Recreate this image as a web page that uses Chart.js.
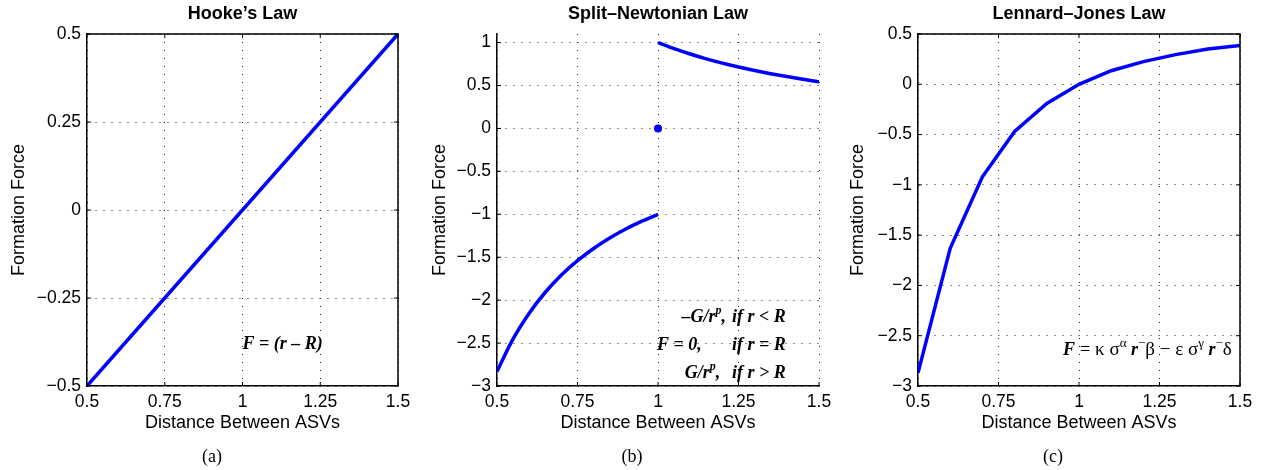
<!DOCTYPE html>
<html>
<head>
<meta charset="utf-8">
<title>Formation force laws</title>
<script src="https://cdn.jsdelivr.net/npm/chart.js@4.4.1/dist/chart.umd.min.js"></script>
<style>
  body { margin: 0; background: #fff; }
  #wrap { position: relative; width: 1263px; height: 470px; overflow: hidden; }
  canvas { position: absolute; top: 0; }
</style>
</head>
<body>
<div id="wrap">
  <canvas id="hooke" width="420" height="470" style="left:0"></canvas>
  <canvas id="split" width="420" height="470" style="left:420px"></canvas>
  <canvas id="lj" width="423" height="470" style="left:840px"></canvas>
</div>
<script>
// shared x ticks
const xTicks = [0.5, 0.75, 1, 1.25, 1.5];

// (a) Hooke's law
const hookeX = [0.5, 1.5];
const hookeY = [-0.5, 0.5];
const hookeTicks = [-0.5, -0.25, 0, 0.25, 0.5];

// (b) split-Newtonian law, two branches and the point at r = R
const splitLeftX = [0.5, 0.55, 0.6, 0.65, 0.7, 0.75, 0.8, 0.85, 0.9, 0.95, 1.0];
const splitLeftY = [-2.83, -2.451, -2.152, -1.908, -1.707, -1.54, -1.398, -1.276, -1.171, -1.08, -1.0];
const splitRightX = [1.0, 1.05, 1.1, 1.15, 1.2, 1.25, 1.3, 1.35, 1.4, 1.45, 1.5];
const splitRightY = [1.0, 0.929, 0.867, 0.811, 0.761, 0.716, 0.675, 0.638, 0.604, 0.573, 0.544];
const splitDotX = [1];
const splitDotY = [0];
const splitTicks = [-3, -2.5, -2, -1.5, -1, -0.5, 0, 0.5, 1];

// (c) Lennard-Jones law
const ljX = [0.5, 0.6, 0.7, 0.8, 0.9, 1.0, 1.1, 1.2, 1.3, 1.4, 1.5];
const ljY = [-2.87, -1.63, -0.92, -0.47, -0.19, 0, 0.135, 0.225, 0.295, 0.35, 0.385];
const ljTicks = [-3, -2.5, -2, -1.5, -1, -0.5, 0, 0.5];

const BLUE = '#0000ff';
const SANS = '"Liberation Sans", Arial, sans-serif';
const SERIF = '"Liberation Serif", "Times New Roman", serif';
const BI = 'bold italic 18px ' + SERIF;
const RG = '19px ' + SERIF;
const SUP = '13px ' + SERIF;
const SUPBI = 'bold italic 12px ' + SERIF;

const pts = (xs, ys) => xs.map((x, i) => ({ x, y: ys[i] }));
const fmt = v => (v < 0 ? '\u2212' : '') + Math.abs(v);

function drawRuns(ctx, x0, y0, runs, align) {
    ctx.textAlign = 'left';
    let w = 0;
    runs.forEach(r => { ctx.font = r.f; w += ctx.measureText(r.t).width; });
    let x = align === 'right' ? x0 - w : x0;
    runs.forEach(r => {
        ctx.font = r.f;
        ctx.fillText(r.t, x, y0 + (r.dy || 0));
        x += ctx.measureText(r.t).width;
    });
}

// inward ticks, frame, formula text and caption
const decor = {
    id: 'decor',
    afterDatasetsDraw(chart, args, o) {
        const { ctx, chartArea: a, scales: { x, y } } = chart;
        ctx.save();
        ctx.strokeStyle = '#000';
        ctx.lineWidth = 1;
        ctx.beginPath();
        x.ticks.forEach(t => {
            const px = x.getPixelForValue(t.value);
            ctx.moveTo(px, a.bottom); ctx.lineTo(px, a.bottom - 4);
            if (o.box) { ctx.moveTo(px, a.top); ctx.lineTo(px, a.top + 4); }
        });
        y.ticks.forEach(t => {
            const py = y.getPixelForValue(t.value);
            ctx.moveTo(a.left, py); ctx.lineTo(a.left + 4, py);
            if (o.box) { ctx.moveTo(a.right, py); ctx.lineTo(a.right - 4, py); }
        });
        ctx.stroke();
        if (o.box) {
            ctx.lineWidth = 1.5;
            ctx.beginPath();
            ctx.moveTo(a.left, a.top); ctx.lineTo(a.right, a.top); ctx.lineTo(a.right, a.bottom);
            ctx.stroke();
        }
        ctx.fillStyle = '#000';
        ctx.textBaseline = 'alphabetic';
        o.notes.forEach(n => drawRuns(ctx, x.getPixelForValue(n.x), y.getPixelForValue(n.y), n.runs, n.align));
        ctx.font = '18px ' + SERIF;
        ctx.textAlign = 'center';
        ctx.textBaseline = 'middle';
        ctx.fillText(o.caption, o.captionX, 457);
        ctx.restore();
    }
};

function makeChart(id, cfg) {
    return new Chart(document.getElementById(id), {
        type: 'line',
        data: { datasets: cfg.datasets },
        options: {
            responsive: false,
            animation: false,
            events: [],
            layout: { padding: { top: 0, left: 0, right: cfg.right, bottom: 36 } },
            plugins: {
                legend: { display: false },
                tooltip: { enabled: false },
                title: {
                    display: true, text: cfg.title, fullSize: false, color: '#000',
                    font: { family: SANS, size: 18, weight: 'bold' },
                    padding: { top: 3, bottom: 9.4 }
                },
                decor: cfg.decor
            },
            scales: {
                x: {
                    type: 'linear', min: 0.5, max: 1.5,
                    afterBuildTicks: s => { s.ticks = xTicks.map(v => ({ value: v })); },
                    afterFit: s => { s.height = 48; },
                    ticks: { color: '#000', font: { family: SANS, size: 17.5 }, padding: 6, maxRotation: 0, callback: fmt },
                    grid: { color: '#222', lineWidth: 1, drawTicks: false },
                    border: { display: true, color: '#000', width: 1.5, dash: [1, 7] },
                    title: { display: true, text: 'Distance Between ASVs', color: '#000', font: { family: SANS, size: 18 }, padding: 0 }
                },
                y: {
                    type: 'linear', min: cfg.yMin, max: cfg.yMax,
                    afterBuildTicks: s => { s.ticks = cfg.yTicks.map(v => ({ value: v })); },
                    afterFit: s => { s.width = cfg.yWidth; },
                    ticks: { color: '#000', font: { family: SANS, size: 17.5 }, padding: 6, callback: fmt },
                    grid: { color: '#222', lineWidth: 1, drawTicks: false },
                    border: { display: true, color: '#000', width: 1.5, dash: [1, 7] },
                    title: { display: true, text: 'Formation Force', color: '#000', font: { family: SANS, size: 18 }, padding: { top: cfg.yTitlePad, bottom: 0 } }
                }
            }
        },
        plugins: [decor]
    });
}

const lineStyle = { borderColor: BLUE, borderWidth: 3.5, pointRadius: 0, fill: false };

makeChart('hooke', {
    title: 'Hooke\u2019s Law',
    datasets: [{ ...lineStyle, data: pts(hookeX, hookeY) }],
    yMin: -0.5, yMax: 0.5, yTicks: hookeTicks, yWidth: 87, yTitlePad: 8.2, right: 22,
    decor: {
        box: true, caption: '(a)', captionX: 212,
        notes: [{ x: 1.0, y: -0.395, runs: [{ t: 'F = (r \u2013 R)', f: BI }] }]
    }
});

makeChart('split', {
    title: 'Split\u2013Newtonian Law',
    datasets: [
        { ...lineStyle, data: pts(splitLeftX, splitLeftY), cubicInterpolationMode: 'monotone' },
        { ...lineStyle, data: pts(splitRightX, splitRightY), cubicInterpolationMode: 'monotone' },
        { data: pts(splitDotX, splitDotY), showLine: false, pointRadius: 4, pointBackgroundColor: BLUE, pointBorderWidth: 0 }
    ],
    yMin: -3, yMax: 1.1, yTicks: splitTicks, yWidth: 77, yTitlePad: 9.2, right: 21,
    decor: {
        box: false, caption: '(b)', captionX: 212,
        notes: [
            { x: 1.211, y: -2.255, align: 'right', runs: [{ t: '\u2013G/r', f: BI }, { t: 'p', f: SUPBI, dy: -8 }, { t: ',', f: BI }] },
            { x: 1.23, y: -2.255, runs: [{ t: 'if r < R', f: BI }] },
            { x: 0.997, y: -2.581, runs: [{ t: 'F = 0,', f: BI }] },
            { x: 1.23, y: -2.581, runs: [{ t: 'if r = R', f: BI }] },
            { x: 1.193, y: -2.907, align: 'right', runs: [{ t: 'G/r', f: BI }, { t: 'p', f: SUPBI, dy: -8 }, { t: ',', f: BI }] },
            { x: 1.23, y: -2.907, runs: [{ t: 'if r > R', f: BI }] }
        ]
    }
});

makeChart('lj', {
    title: 'Lennard\u2013Jones Law',
    datasets: [{ ...lineStyle, data: pts(ljX, ljY) }],
    yMin: -3, yMax: 0.5, yTicks: ljTicks, yWidth: 78, yTitlePad: 7.2, right: 23,
    decor: {
        box: true, caption: '(c)', captionX: 213,
        notes: [{
            x: 0.95, y: -2.69, runs: [
                { t: 'F', f: BI }, { t: ' = \u03ba \u03c3', f: RG }, { t: '\u03b1', f: SUP, dy: -8 },
                { t: ' r', f: BI }, { t: '\u2212', f: SUP, dy: -8 }, { t: '\u03b2 \u2212 \u03b5 \u03c3', f: RG },
                { t: '\u03b3', f: SUP, dy: -8 }, { t: ' r', f: BI }, { t: '\u2212', f: SUP, dy: -8 }, { t: '\u03b4', f: RG }
            ]
        }]
    }
});
</script>
</body>
</html>
